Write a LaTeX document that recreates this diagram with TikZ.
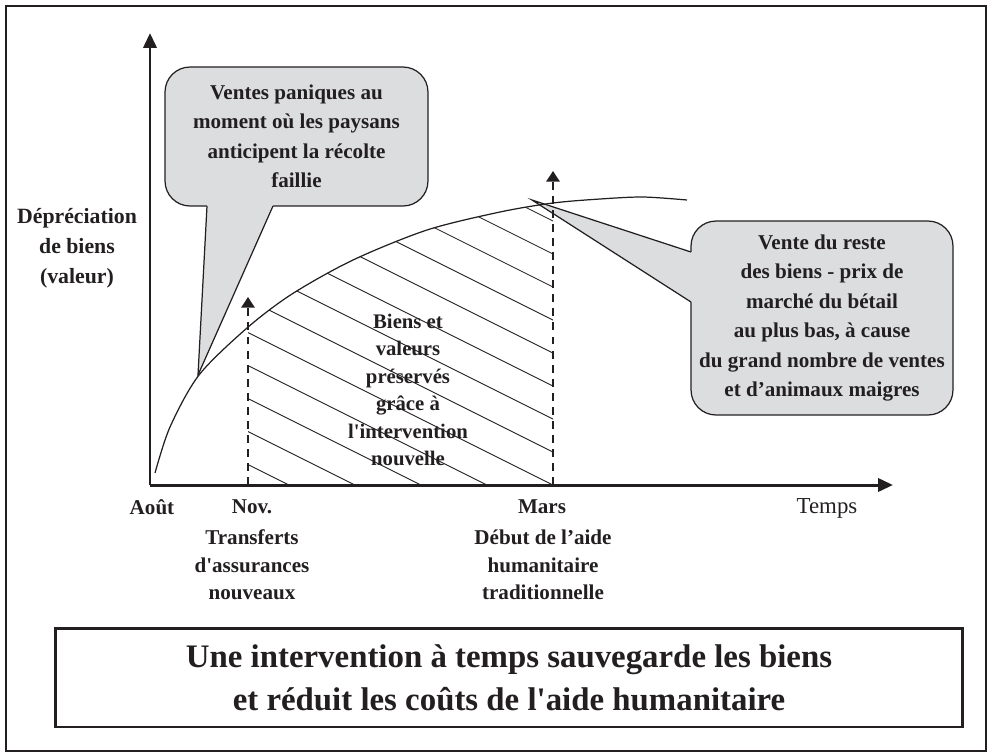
\documentclass[tikz,border=0pt]{standalone}
\usepackage{fontspec}
\setmainfont{Liberation Serif}
\usetikzlibrary{arrows.meta}
\definecolor{calloutgray}{RGB}{220,221,223}
\definecolor{inkblack}{RGB}{35,31,32}

\begin{document}
\begin{tikzpicture}
[x=0.02cm,y=-0.02cm,
 every node/.style={text=inkblack},
 lbl/.style={font=\bfseries\fontsize{12}{15.6}\selectfont,align=center},
 callout/.style={draw=inkblack,fill=calloutgray,line width=0.7pt,rounded corners=0.5cm,
   align=center,font=\bfseries\fontsize{12}{16.8}\selectfont},
 axis/.style={line width=1.7pt,draw=inkblack,-{Triangle[length=8.5pt,width=7.5pt]}},
 marker/.style={line width=1.2pt,draw=inkblack,dash pattern=on 4.5pt off 3.5pt,
   -{Triangle[length=6pt,width=7.5pt]}},
 hatch/.style={line width=0.5pt,draw=inkblack},
 curve/.style={line width=0.7pt,draw=inkblack}]
\useasboundingbox (0,0) rectangle (988,752);
\draw[line width=1.1pt,inkblack] (6,6) rectangle (986,751);

\node[callout,minimum width=5.26cm,minimum height=2.78cm] (panic) at (296.5,136.5)
  {Ventes paniques au\\moment où les paysans\\anticipent la récolte\\faillie};
\coordinate (panictip) at (198,375);
\coordinate (panicL) at (207,206);
\coordinate (panicR) at (273,206);
\fill[calloutgray] (panictip) -- (panicL) -- ++(0,-3) -| (panicR) -- cycle;
\draw[line width=0.7pt,inkblack] (panicL) -- (panictip) -- (panicR);

\node[callout,minimum width=5.24cm,minimum height=3.88cm] (reste) at (822,318)
  {Vente du reste\\des biens - prix de\\marché du bétail\\au plus bas, à cause\\du grand nombre de ventes\\et d’animaux maigres};
\coordinate (restetip) at (532,200);
\coordinate (resteA) at (691,252);
\coordinate (resteB) at (691,302);
\fill[calloutgray] (restetip) -- (resteA) -- ++(3,0) |- (resteB) -- cycle;
\draw[line width=0.7pt,inkblack] (resteA) -- (restetip) -- (resteB);

\begin{scope}
\clip (248,140) rectangle (553,485);
\clip plot[smooth,tension=0.5] coordinates {(155,473) (170,427) (199,375) (247,328) (292,294)
  (353,260) (427,230) (500,212) (553,203) (600,199) (643,197) (687,200)} -- (687,485) -- (155,485) -- cycle;
\foreach \k in {-5,...,10}
  \draw[hatch] (148,{485-33*\k-202.5}) -- (653,{485-33*\k+50});
\end{scope}
\draw[curve] plot[smooth,tension=0.5] coordinates {(155,473) (170,427) (199,375) (247,328) (292,294)
  (353,260) (427,230) (500,212) (553,203) (600,199) (643,197) (687,200)};

\coordinate (origin) at (150,485);
\coordinate (ytop) at (150,33);
\coordinate (xend) at (893,485);
\draw[axis] (origin) -- (ytop);
\draw[axis] (origin) -- (xend);

\coordinate (novbase) at (248,485);
\coordinate (novtop) at (248,297);
\coordinate (marsbase) at (553,485);
\coordinate (marstop) at (553,171);
\draw[marker] (novbase) -- (novtop);
\draw[marker] (marsbase) -- (marstop);

\node[lbl,font=\bfseries\fontsize{12.4}{17}\selectfont] (ylabel) at (77,248) {Dépréciation\\de biens\\(valeur)};
\node[lbl,font=\bfseries\fontsize{11.8}{15.6}\selectfont] (biens) at (408,390)
  {Biens et\\valeurs\\préservés\\grâce à\\l\textquotesingle intervention\\nouvelle};
\node[lbl] (aout) at (152,507) {Août};
\node[lbl] (nov) at (252,507) {Nov.};
\node[lbl] (mars) at (542,507) {Mars};
\node[font=\fontsize{13}{15}\selectfont] (temps) at (827,508) {Temps};
\node[lbl] (transferts) at (252,565) {Transferts\\d\textquotesingle assurances\\nouveaux};
\node[lbl] (debut) at (543,565) {Début de l’aide\\humanitaire\\traditionnelle};

\node[draw=inkblack,line width=1.7pt,minimum width=18.16cm,minimum height=1.98cm,align=center,
  font=\bfseries\fontsize{18.7}{24.5}\selectfont] (moral) at (509,677.5)
  {Une intervention à temps sauvegarde les biens\\et réduit les coûts de l\textquotesingle aide humanitaire};
\end{tikzpicture}
\end{document}
